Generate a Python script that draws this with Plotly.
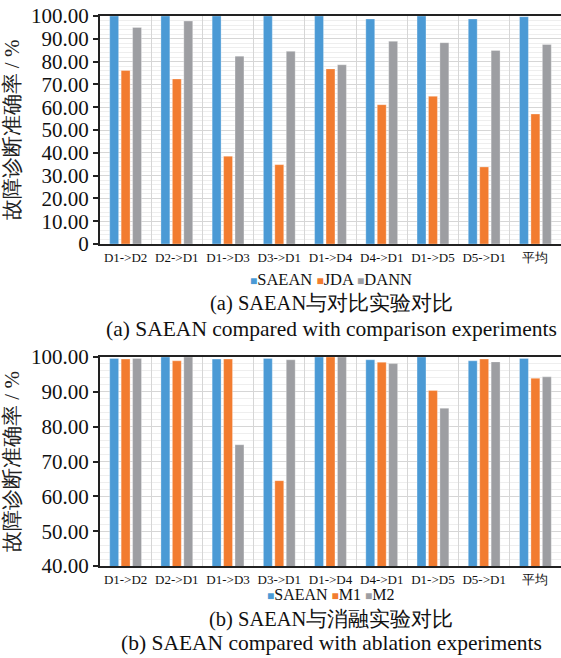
import plotly.graph_objects as go

# ---------------- data ----------------
categories = ["D1->D2", "D2->D1", "D1->D3", "D3->D1", "D1->D4",
              "D4->D1", "D1->D5", "D5->D1", "平均"]

# (a) comparison experiments
saean_a = [100.0, 100.0, 100.0, 100.0, 100.0, 98.7, 100.0, 98.7, 99.7]
jda_a = [76.1, 72.4, 38.5, 34.8, 76.8, 61.1, 64.8, 33.8, 57.0]
dann_a = [95.0, 97.8, 82.4, 84.5, 78.6, 88.9, 88.3, 84.9, 87.5]

# (b) ablation experiments
saean_b = [99.6, 100.0, 99.4, 99.6, 100.0, 99.2, 100.0, 98.9, 99.6]
m1_b = [99.4, 98.9, 99.4, 64.5, 100.0, 98.5, 90.4, 99.4, 93.9]
m2_b = [99.6, 100.0, 74.8, 99.2, 100.0, 98.1, 85.3, 98.6, 94.3]

names_a = ["SAEAN", "JDA", "DANN"]
names_b = ["SAEAN", "M1", "M2"]
colors = ["#4B9AD5", "#F27C30", "#9D9EA2"]

ticks_a = [0, 10, 20, 30, 40, 50, 60, 70, 80, 90, 100]
ticktext_a = ["0"] + ["%.2f" % v for v in ticks_a[1:]]
ticks_b = [40, 50, 60, 70, 80, 90, 100]
ticktext_b = ["%.2f" % v for v in ticks_b]

ytitle = "故障诊断准确率 / %"
caption_a_cn = "(a) SAEAN与对比实验对比"
caption_a_en = "(a) SAEAN compared with comparison experiments"
caption_b_cn = "(b) SAEAN与消融实验对比"
caption_b_en = "(b) SAEAN compared with ablation experiments"

# ---------------- figure ----------------
W, H = 561, 658
SERIF = "Liberation Serif"

fig = go.Figure()
for vals, name, col in zip([saean_a, jda_a, dann_a], names_a, colors):
    fig.add_trace(go.Bar(x=categories, y=vals, name=name, marker_color=col,
                         marker_line=dict(color="rgba(255,255,255,0.5)", width=0.6),
                         xaxis="x", yaxis="y", showlegend=False))
for vals, name, col in zip([saean_b, m1_b, m2_b], names_b, colors):
    fig.add_trace(go.Bar(x=categories, y=vals, name=name, marker_color=col,
                         marker_line=dict(color="rgba(255,255,255,0.5)", width=0.6),
                         xaxis="x2", yaxis="y2", showlegend=False))

def py(px):
    return 1 - px / H

xdom = [100 / W, 1.0]
common_x = dict(type="category", showline=True, linecolor="#222", linewidth=2,
                mirror=True, showgrid=True, gridcolor="#D6D6D6", gridwidth=1,
                tickson="boundaries", ticks="", ticklen=0, tickangle=0,
                automargin=False,
                tickfont=dict(family=SERIF, size=13, color="#111"))
common_y = dict(showline=True, linecolor="#222", linewidth=2, ticks="outside",
                ticklen=5, tickwidth=1.5, tickcolor="#222", showgrid=True,
                gridcolor="#D6D6D6", gridwidth=1, zeroline=False,
                automargin=False,
                minor=dict(dtick=2, showgrid=True, gridcolor="#EEEEEE", gridwidth=1),
                tickfont=dict(family=SERIF, size=21, color="#111"),
                title=dict(text=ytitle, standoff=6,
                           font=dict(family=SERIF, size=21, color="#222")))

fig.update_layout(
    width=W, height=H, margin=dict(l=0, r=0, t=0, b=0, pad=0),
    paper_bgcolor="white", plot_bgcolor="white",
    barmode="group", bargap=0.33, bargroupgap=0.22,
    xaxis=dict(domain=xdom, anchor="y", **common_x),
    yaxis=dict(domain=[py(244), py(16)], anchor="x", range=[0, 100],
               tickvals=ticks_a, ticktext=ticktext_a, **common_y),
    xaxis2=dict(domain=xdom, anchor="y2", **common_x),
    yaxis2=dict(domain=[py(566), py(357)], anchor="x2", range=[40, 100],
                tickvals=ticks_b, ticktext=ticktext_b, **common_y),
)

def legend_text(names):
    parts = []
    for n, c in zip(names, colors):
        parts.append("<span style='color:%s;font-size:12px'>■</span>%s" % (c, n))
    return " ".join(parts)

cx = 331 / W
anns = [
    (legend_text(names_a), 280, 16.5),
    (caption_a_cn, 303, 20.5),
    (caption_a_en, 329, 21.5),
    (legend_text(names_b), 594, 16),
    (caption_b_cn, 619, 20.5),
    (caption_b_en, 643, 21.5),
]
for txt, ypx, fs in anns:
    fig.add_annotation(text=txt, x=cx, y=py(ypx), xref="paper", yref="paper",
                       xanchor="center", yanchor="middle", showarrow=False,
                       font=dict(family=SERIF, size=fs, color="#111"))

fig.write_html("out.html", config={"displayModeBar": False},
               post_script="document.body.style.margin='0';"
                           "document.body.style.overflow='hidden';")
